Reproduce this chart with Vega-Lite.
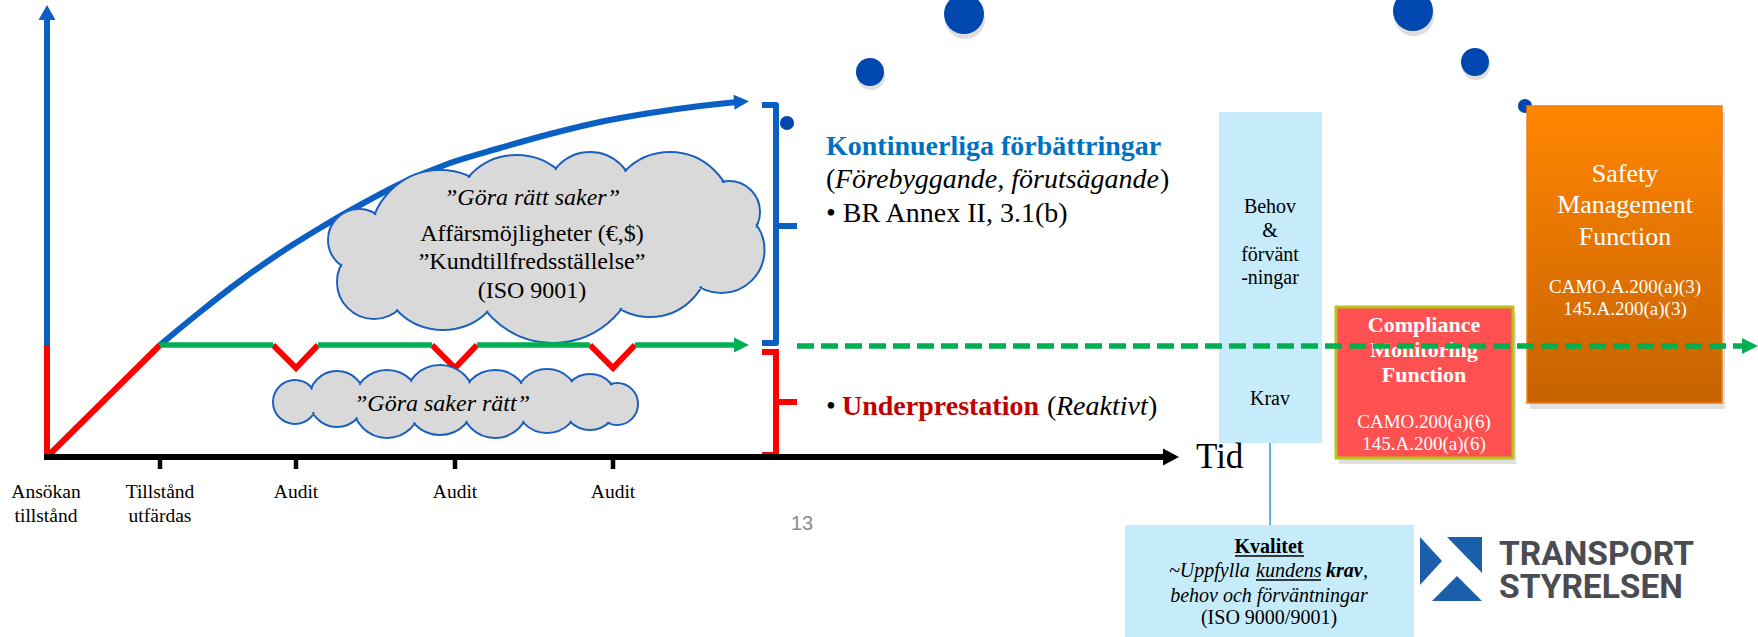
{
  "$schema": "https://vega.github.io/schema/vega-lite/v6.json",
  "width": 1758,
  "height": 637,
  "autosize": {"type": "none"},
  "padding": 0,
  "background": "white",
  "config": {"view": {"stroke": null}},
  "datasets": {
    "boxes": [
      {"k": "behov", "x": 1219, "x2": 1322, "y": 112, "y2": 443},
      {"k": "kvalitet", "x": 1125, "x2": 1414, "y": 525, "y2": 640},
      {"k": "cmf", "x": 1336, "x2": 1513, "y": 307, "y2": 458},
      {"k": "smf", "x": 1527, "x2": 1722, "y": 106, "y2": 403}
    ],
    "paths": [
      {"s": "forbattring", "seg": "axel", "o": 1, "x": 47, "y": 345},
      {"s": "forbattring", "seg": "axel", "o": 2, "x": 47, "y": 16},
      {"s": "forbattring", "seg": "klammer", "o": 1, "x": 762, "y": 105},
      {"s": "forbattring", "seg": "klammer", "o": 2, "x": 776, "y": 105},
      {"s": "forbattring", "seg": "klammer", "o": 3, "x": 776, "y": 343},
      {"s": "forbattring", "seg": "klammer", "o": 4, "x": 762, "y": 343},
      {"s": "forbattring", "seg": "mitt", "o": 1, "x": 776, "y": 226},
      {"s": "forbattring", "seg": "mitt", "o": 2, "x": 797, "y": 226},
      {"s": "under", "seg": "axel", "o": 1, "x": 47, "y": 457},
      {"s": "under", "seg": "axel", "o": 2, "x": 47, "y": 345},
      {"s": "under", "seg": "diag", "o": 1, "x": 47, "y": 457},
      {"s": "under", "seg": "diag", "o": 2, "x": 160, "y": 345},
      {"s": "under", "seg": "v1", "o": 1, "x": 273, "y": 345},
      {"s": "under", "seg": "v1", "o": 2, "x": 296, "y": 368},
      {"s": "under", "seg": "v1", "o": 3, "x": 318, "y": 345},
      {"s": "under", "seg": "v2", "o": 1, "x": 432, "y": 345},
      {"s": "under", "seg": "v2", "o": 2, "x": 455, "y": 368},
      {"s": "under", "seg": "v2", "o": 3, "x": 477, "y": 345},
      {"s": "under", "seg": "v3", "o": 1, "x": 590, "y": 345},
      {"s": "under", "seg": "v3", "o": 2, "x": 613, "y": 368},
      {"s": "under", "seg": "v3", "o": 3, "x": 635, "y": 345},
      {"s": "under", "seg": "klammer", "o": 1, "x": 762, "y": 352},
      {"s": "under", "seg": "klammer", "o": 2, "x": 776, "y": 352},
      {"s": "under", "seg": "klammer", "o": 3, "x": 776, "y": 455},
      {"s": "under", "seg": "klammer", "o": 4, "x": 762, "y": 455},
      {"s": "under", "seg": "mitt", "o": 1, "x": 776, "y": 402},
      {"s": "under", "seg": "mitt", "o": 2, "x": 797, "y": 402},
      {"s": "niva", "seg": "g1", "o": 1, "x": 160, "y": 345},
      {"s": "niva", "seg": "g1", "o": 2, "x": 273, "y": 345},
      {"s": "niva", "seg": "g2", "o": 1, "x": 318, "y": 345},
      {"s": "niva", "seg": "g2", "o": 2, "x": 432, "y": 345},
      {"s": "niva", "seg": "g3", "o": 1, "x": 477, "y": 345},
      {"s": "niva", "seg": "g3", "o": 2, "x": 590, "y": 345},
      {"s": "niva", "seg": "g4", "o": 1, "x": 635, "y": 345},
      {"s": "niva", "seg": "g4", "o": 2, "x": 737, "y": 345},
      {"s": "fortsatt", "seg": "d", "o": 1, "x": 797, "y": 346},
      {"s": "fortsatt", "seg": "d", "o": 2, "x": 1744, "y": 346},
      {"s": "tid", "seg": "axel", "o": 1, "x": 44, "y": 457},
      {"s": "tid", "seg": "axel", "o": 2, "x": 1166, "y": 457},
      {"s": "tick", "seg": "t1", "o": 1, "x": 160, "y": 457},
      {"s": "tick", "seg": "t1", "o": 2, "x": 160, "y": 469},
      {"s": "tick", "seg": "t2", "o": 1, "x": 296, "y": 457},
      {"s": "tick", "seg": "t2", "o": 2, "x": 296, "y": 469},
      {"s": "tick", "seg": "t3", "o": 1, "x": 455, "y": 457},
      {"s": "tick", "seg": "t3", "o": 2, "x": 455, "y": 469},
      {"s": "tick", "seg": "t4", "o": 1, "x": 613, "y": 457},
      {"s": "tick", "seg": "t4", "o": 2, "x": 613, "y": 469},
      {"s": "understr", "seg": "u1", "o": 1, "x": 1235, "y": 556},
      {"s": "understr", "seg": "u1", "o": 2, "x": 1304, "y": 556},
      {"s": "understr", "seg": "u2", "o": 1, "x": 1256, "y": 580},
      {"s": "understr", "seg": "u2", "o": 2, "x": 1321, "y": 580},
      {"s": "koppling", "seg": "k", "o": 1, "x": 1270, "y": 443},
      {"s": "koppling", "seg": "k", "o": 2, "x": 1270, "y": 525}
    ],
    "kurva": [
      {"x": 160, "y": 345}, {"x": 200, "y": 312}, {"x": 240, "y": 281},
      {"x": 280, "y": 253}, {"x": 320, "y": 228}, {"x": 360, "y": 205},
      {"x": 400, "y": 184}, {"x": 450, "y": 163}, {"x": 500, "y": 148},
      {"x": 550, "y": 134}, {"x": 600, "y": 122}, {"x": 650, "y": 113},
      {"x": 700, "y": 106}, {"x": 737, "y": 102}
    ],
    "pilar": [
      {"s": "yaxel", "x": 47, "y": 13},
      {"s": "kurva", "x": 741, "y": 101.7},
      {"s": "niva", "x": 741, "y": 345},
      {"s": "tid", "x": 1171, "y": 457},
      {"s": "fortsatt", "x": 1750, "y": 346}
    ],
    "prickar": [
      {"k": "stor", "x": 964, "y": 14},
      {"k": "stor", "x": 1413, "y": 11},
      {"k": "mellan", "x": 870, "y": 72},
      {"k": "mellan", "x": 1475, "y": 62},
      {"k": "liten", "x": 787, "y": 123},
      {"k": "liten", "x": 1525, "y": 106}
    ],
    "moln": [
      {"k": "moln1", "x": 548, "y": 248},
      {"k": "moln2", "x": 455, "y": 402}
    ],
    "logo": [{"x": 1451, "y": 569}],
    "texter": [
      {"k": "tick", "t": "Ansökan", "x": 46, "y": 498},
      {"k": "tick", "t": "tillstånd", "x": 46, "y": 522},
      {"k": "tick", "t": "Tillstånd", "x": 160, "y": 498},
      {"k": "tick", "t": "utfärdas", "x": 160, "y": 522},
      {"k": "tick", "t": "Audit", "x": 296, "y": 498},
      {"k": "tick", "t": "Audit", "x": 455, "y": 498},
      {"k": "tick", "t": "Audit", "x": 613, "y": 498},
      {"k": "moln", "t": "Affärsmöjligheter (€,$)", "x": 532, "y": 241},
      {"k": "moln", "t": "”Kundtillfredsställelse”", "x": 532, "y": 269},
      {"k": "moln", "t": "(ISO 9001)", "x": 532, "y": 298},
      {"k": "moln_kursiv", "t": "”Göra rätt saker”", "x": 532, "y": 205},
      {"k": "moln_kursiv", "t": "”Göra saker rätt”", "x": 442, "y": 411},
      {"k": "rubrik", "t": "Kontinuerliga förbättringar", "x": 826, "y": 155},
      {"k": "brod", "t": "(", "x": 826, "y": 188},
      {"k": "brod", "t": ")", "x": 1160, "y": 188},
      {"k": "brod", "t": "• BR Annex II, 3.1(b)", "x": 826, "y": 222},
      {"k": "brod", "t": "•", "x": 826, "y": 415},
      {"k": "brod", "t": "(", "x": 1047, "y": 415},
      {"k": "brod", "t": ")", "x": 1148, "y": 415},
      {"k": "brod_kursiv", "t": "Förebyggande, förutsägande", "x": 835, "y": 188},
      {"k": "brod_kursiv", "t": "Reaktivt", "x": 1056, "y": 415},
      {"k": "brod_rod", "t": "Underprestation", "x": 842, "y": 415},
      {"k": "tid", "t": "Tid", "x": 1196, "y": 468},
      {"k": "behov", "t": "Behov", "x": 1270, "y": 213},
      {"k": "behov", "t": "&", "x": 1270, "y": 237},
      {"k": "behov", "t": "förvänt", "x": 1270, "y": 261},
      {"k": "behov", "t": "-ningar", "x": 1270, "y": 284},
      {"k": "behov", "t": "Krav", "x": 1270, "y": 405},
      {"k": "cmf", "t": "Compliance", "x": 1424, "y": 332},
      {"k": "cmf", "t": "Monitoring", "x": 1424, "y": 357},
      {"k": "cmf", "t": "Function", "x": 1424, "y": 382},
      {"k": "kod", "t": "CAMO.200(a)(6)", "x": 1424, "y": 428},
      {"k": "kod", "t": "145.A.200(a)(6)", "x": 1424, "y": 450},
      {"k": "kod", "t": "CAMO.A.200(a)(3)", "x": 1625, "y": 293},
      {"k": "kod", "t": "145.A.200(a)(3)", "x": 1625, "y": 315},
      {"k": "smf", "t": "Safety", "x": 1625, "y": 182},
      {"k": "smf", "t": "Management", "x": 1625, "y": 213},
      {"k": "smf", "t": "Function", "x": 1625, "y": 245},
      {"k": "kval_rubrik", "t": "Kvalitet", "x": 1269, "y": 553},
      {"k": "kval_kursiv", "t": "~Uppfylla", "x": 1169, "y": 577},
      {"k": "kval_kursiv", "t": "kundens", "x": 1256, "y": 577},
      {"k": "kval_kursiv", "t": ",", "x": 1363, "y": 577},
      {"k": "kval_fet", "t": "krav", "x": 1326, "y": 577},
      {"k": "kval_kursiv_c", "t": "behov och förväntningar", "x": 1269, "y": 602},
      {"k": "kval", "t": "(ISO 9000/9001)", "x": 1269, "y": 624},
      {"k": "sida", "t": "13", "x": 802, "y": 530},
      {"k": "logo", "t": "TRANSPORT", "x": 1499, "y": 565},
      {"k": "logo", "t": "STYRELSEN", "x": 1499, "y": 598}
    ]
  },
  "encoding": {
    "x": {"field": "x", "type": "quantitative", "scale": {"domain": [0, 1758], "nice": false, "zero": false}, "axis": null},
    "y": {"field": "y", "type": "quantitative", "scale": {"domain": [0, 637], "nice": false, "zero": false, "reverse": true}, "axis": null}
  },
  "layer": [
    {
      "data": {"name": "boxes"},
      "transform": [{"filter": "datum.k === 'behov' || datum.k === 'kvalitet'"}],
      "mark": {"type": "rect", "fill": "#c6ecfc"},
      "encoding": {"x2": {"field": "x2"}, "y2": {"field": "y2"}}
    },
    {
      "data": {"name": "paths"},
      "transform": [{"filter": "datum.s === 'koppling'"}],
      "mark": {"type": "line", "color": "#1f9fe0", "strokeWidth": 1.5},
      "encoding": {"detail": {"field": "seg"}, "order": {"field": "o"}}
    },
    {
      "data": {"name": "prickar"},
      "transform": [{"filter": "datum.k === 'stor'"}],
      "mark": {"type": "point", "shape": "circle", "size": 1600, "filled": true, "fill": "#7a7a7a", "opacity": 0.25, "strokeWidth": 0, "yOffset": 5, "xOffset": 1}
    },
    {
      "data": {"name": "prickar"},
      "transform": [{"filter": "datum.k === 'mellan'"}],
      "mark": {"type": "point", "shape": "circle", "size": 784, "filled": true, "fill": "#7a7a7a", "opacity": 0.25, "strokeWidth": 0, "yOffset": 4, "xOffset": 1}
    },
    {
      "data": {"name": "prickar"},
      "transform": [{"filter": "datum.k === 'stor'"}],
      "mark": {"type": "point", "shape": "circle", "size": 1600, "filled": true, "fill": "#0048b0", "opacity": 1, "strokeWidth": 0}
    },
    {
      "data": {"name": "prickar"},
      "transform": [{"filter": "datum.k === 'mellan'"}],
      "mark": {"type": "point", "shape": "circle", "size": 784, "filled": true, "fill": "#0048b0", "opacity": 1, "strokeWidth": 0}
    },
    {
      "data": {"name": "prickar"},
      "transform": [{"filter": "datum.k === 'liten'"}],
      "mark": {"type": "point", "shape": "circle", "size": 200, "filled": true, "fill": "#0048b0", "opacity": 1, "strokeWidth": 0}
    },
    {
      "data": {"name": "boxes"},
      "transform": [{"filter": "datum.k === 'cmf' || datum.k === 'smf'"}],
      "mark": {"type": "rect", "fill": "#555555", "opacity": 0.18, "xOffset": 3, "x2Offset": 3, "yOffset": 6, "y2Offset": 6},
      "encoding": {"x2": {"field": "x2"}, "y2": {"field": "y2"}}
    },
    {
      "data": {"name": "boxes"},
      "transform": [{"filter": "datum.k === 'cmf'"}],
      "mark": {"type": "rect", "fill": "#ff5151", "stroke": "#b8c21c", "strokeWidth": 3},
      "encoding": {"x2": {"field": "x2"}, "y2": {"field": "y2"}}
    },
    {
      "data": {"name": "boxes"},
      "transform": [{"filter": "datum.k === 'smf'"}],
      "mark": {
        "type": "rect",
        "fill": {"gradient": "linear", "x1": 0, "y1": 0, "x2": 0, "y2": 1, "stops": [{"offset": 0, "color": "#ff8600"}, {"offset": 1, "color": "#c76200"}]},
        "stroke": "#ef7d1a",
        "strokeWidth": 1.5
      },
      "encoding": {"x2": {"field": "x2"}, "y2": {"field": "y2"}}
    },
    {
      "data": {"name": "kurva"},
      "mark": {"type": "line", "color": "#0a5fc2", "strokeWidth": 6, "interpolate": "monotone"},
      "encoding": {"order": {"field": "x"}}
    },
    {
      "data": {"name": "paths"},
      "transform": [{"filter": "datum.s === 'forbattring'"}],
      "mark": {"type": "line", "color": "#0a5fc2", "strokeWidth": 6, "strokeJoin": "round"},
      "encoding": {"detail": {"field": "seg"}, "order": {"field": "o"}}
    },
    {
      "data": {"name": "paths"},
      "transform": [{"filter": "datum.s === 'under'"}],
      "mark": {"type": "line", "color": "#ff0000", "strokeWidth": 6, "strokeJoin": "miter"},
      "encoding": {"detail": {"field": "seg"}, "order": {"field": "o"}}
    },
    {
      "data": {"name": "paths"},
      "transform": [{"filter": "datum.s === 'tid'"}],
      "mark": {"type": "line", "color": "#000000", "strokeWidth": 6},
      "encoding": {"detail": {"field": "seg"}, "order": {"field": "o"}}
    },
    {
      "data": {"name": "paths"},
      "transform": [{"filter": "datum.s === 'tick'"}],
      "mark": {"type": "line", "color": "#000000", "strokeWidth": 4.5},
      "encoding": {"detail": {"field": "seg"}, "order": {"field": "o"}}
    },
    {
      "data": {"name": "moln"},
      "transform": [{"filter": "datum.k === 'moln1'"}],
      "mark": {
        "type": "point",
        "shape": "M -38 -8 A 70 70 0 1 1 -178 -8 A 70 70 0 1 1 -38 -8 Z M 32.7 -29 A 64 64 0 1 1 -95.3 -29 A 64 64 0 1 1 32.7 -29 Z M 86 -52 A 44 44 0 1 1 -2 -52 A 44 44 0 1 1 86 -52 Z M 185 -33 A 63 63 0 1 1 59 -33 A 63 63 0 1 1 185 -33 Z M 212 -36 A 31 31 0 1 1 150 -36 A 31 31 0 1 1 212 -36 Z M 216.5 2 A 43 43 0 1 1 130.5 2 A 43 43 0 1 1 216.5 2 Z M 161 10 A 59 59 0 1 1 43 10 A 59 59 0 1 1 161 10 Z M 91 9 A 86 86 0 1 1 -81 9 A 86 86 0 1 1 91 9 Z M -41 18 A 64 64 0 1 1 -169 18 A 64 64 0 1 1 -41 18 Z M -137 34 A 37 37 0 1 1 -211 34 A 37 37 0 1 1 -137 34 Z M -158 -8 A 31 31 0 1 1 -220 -8 A 31 31 0 1 1 -158 -8 Z",
        "size": 4,
        "filled": true,
        "fill": "#d9d9d9",
        "stroke": "#1b5fbf",
        "strokeWidth": 2,
        "opacity": 1
      }
    },
    {
      "data": {"name": "moln"},
      "transform": [{"filter": "datum.k === 'moln1'"}],
      "mark": {
        "type": "point",
        "shape": "M -39.5 -8 A 68.5 68.5 0 1 1 -176.5 -8 A 68.5 68.5 0 1 1 -39.5 -8 Z M 31.2 -29 A 62.5 62.5 0 1 1 -93.8 -29 A 62.5 62.5 0 1 1 31.2 -29 Z M 84.5 -52 A 42.5 42.5 0 1 1 -0.5 -52 A 42.5 42.5 0 1 1 84.5 -52 Z M 183.5 -33 A 61.5 61.5 0 1 1 60.5 -33 A 61.5 61.5 0 1 1 183.5 -33 Z M 210.5 -36 A 29.5 29.5 0 1 1 151.5 -36 A 29.5 29.5 0 1 1 210.5 -36 Z M 215 2 A 41.5 41.5 0 1 1 132 2 A 41.5 41.5 0 1 1 215 2 Z M 159.5 10 A 57.5 57.5 0 1 1 44.5 10 A 57.5 57.5 0 1 1 159.5 10 Z M 89.5 9 A 84.5 84.5 0 1 1 -79.5 9 A 84.5 84.5 0 1 1 89.5 9 Z M -42.5 18 A 62.5 62.5 0 1 1 -167.5 18 A 62.5 62.5 0 1 1 -42.5 18 Z M -138.5 34 A 35.5 35.5 0 1 1 -209.5 34 A 35.5 35.5 0 1 1 -138.5 34 Z M -159.5 -8 A 29.5 29.5 0 1 1 -218.5 -8 A 29.5 29.5 0 1 1 -159.5 -8 Z",
        "size": 4,
        "filled": true,
        "fill": "#d9d9d9",
        "strokeWidth": 0,
        "opacity": 1
      }
    },
    {
      "data": {"name": "moln"},
      "transform": [{"filter": "datum.k === 'moln2'"}],
      "mark": {
        "type": "point",
        "shape": "M -138 0 A 22 22 0 1 1 -182 0 A 22 22 0 1 1 -138 0 Z M -90 -3 A 28 28 0 1 1 -146 -3 A 28 28 0 1 1 -90 -3 Z M -34 2 A 34 34 0 1 1 -102 2 A 34 34 0 1 1 -34 2 Z M 20 -2 A 35 35 0 1 1 -50 -2 A 35 35 0 1 1 20 -2 Z M 74 2 A 34 34 0 1 1 6 2 A 34 34 0 1 1 74 2 Z M 124 -1 A 32 32 0 1 1 60 -1 A 32 32 0 1 1 124 -1 Z M 163 0 A 28 28 0 1 1 107 0 A 28 28 0 1 1 163 0 Z M 183 2 A 21 21 0 1 1 141 2 A 21 21 0 1 1 183 2 Z",
        "size": 4,
        "filled": true,
        "fill": "#d9d9d9",
        "stroke": "#1b5fbf",
        "strokeWidth": 2,
        "opacity": 1
      }
    },
    {
      "data": {"name": "moln"},
      "transform": [{"filter": "datum.k === 'moln2'"}],
      "mark": {
        "type": "point",
        "shape": "M -139.5 0 A 20.5 20.5 0 1 1 -180.5 0 A 20.5 20.5 0 1 1 -139.5 0 Z M -91.5 -3 A 26.5 26.5 0 1 1 -144.5 -3 A 26.5 26.5 0 1 1 -91.5 -3 Z M -35.5 2 A 32.5 32.5 0 1 1 -100.5 2 A 32.5 32.5 0 1 1 -35.5 2 Z M 18.5 -2 A 33.5 33.5 0 1 1 -48.5 -2 A 33.5 33.5 0 1 1 18.5 -2 Z M 72.5 2 A 32.5 32.5 0 1 1 7.5 2 A 32.5 32.5 0 1 1 72.5 2 Z M 122.5 -1 A 30.5 30.5 0 1 1 61.5 -1 A 30.5 30.5 0 1 1 122.5 -1 Z M 161.5 0 A 26.5 26.5 0 1 1 108.5 0 A 26.5 26.5 0 1 1 161.5 0 Z M 181.5 2 A 19.5 19.5 0 1 1 142.5 2 A 19.5 19.5 0 1 1 181.5 2 Z",
        "size": 4,
        "filled": true,
        "fill": "#d9d9d9",
        "strokeWidth": 0,
        "opacity": 1
      }
    },
    {
      "data": {"name": "paths"},
      "transform": [{"filter": "datum.s === 'niva'"}],
      "mark": {"type": "line", "color": "#00b050", "strokeWidth": 5.5},
      "encoding": {"detail": {"field": "seg"}, "order": {"field": "o"}}
    },
    {
      "data": {"name": "pilar"},
      "transform": [{"filter": "datum.s === 'yaxel'"}],
      "mark": {"type": "point", "shape": "M 0 -8 L 8.5 7 L -8.5 7 Z", "size": 4, "filled": true, "fill": "#0a5fc2", "strokeWidth": 0, "opacity": 1}
    },
    {
      "data": {"name": "pilar"},
      "transform": [{"filter": "datum.s === 'kurva'"}],
      "mark": {"type": "point", "shape": "M 8 0 L -7 -7.5 L -7 7.5 Z", "size": 4, "angle": -4, "filled": true, "fill": "#0a5fc2", "strokeWidth": 0, "opacity": 1}
    },
    {
      "data": {"name": "pilar"},
      "transform": [{"filter": "datum.s === 'niva'"}],
      "mark": {"type": "point", "shape": "M 8 0 L -7 -7.5 L -7 7.5 Z", "size": 4, "filled": true, "fill": "#00b050", "strokeWidth": 0, "opacity": 1}
    },
    {
      "data": {"name": "pilar"},
      "transform": [{"filter": "datum.s === 'tid'"}],
      "mark": {"type": "point", "shape": "M 8 0 L -8 -8.5 L -8 8.5 Z", "size": 4, "filled": true, "fill": "#000000", "strokeWidth": 0, "opacity": 1}
    },
    {
      "data": {"name": "texter"},
      "transform": [{"filter": "datum.k === 'tick'"}],
      "mark": {"type": "text", "font": "Liberation Serif", "fontSize": 19.5, "align": "center", "baseline": "alphabetic", "color": "#000000"},
      "encoding": {"text": {"field": "t"}}
    },
    {
      "data": {"name": "texter"},
      "transform": [{"filter": "datum.k === 'moln'"}],
      "mark": {"type": "text", "font": "Liberation Serif", "fontSize": 24, "align": "center", "baseline": "alphabetic", "color": "#000000"},
      "encoding": {"text": {"field": "t"}}
    },
    {
      "data": {"name": "texter"},
      "transform": [{"filter": "datum.k === 'moln_kursiv'"}],
      "mark": {"type": "text", "font": "Liberation Serif", "fontSize": 24, "fontStyle": "italic", "align": "center", "baseline": "alphabetic", "color": "#000000"},
      "encoding": {"text": {"field": "t"}}
    },
    {
      "data": {"name": "texter"},
      "transform": [{"filter": "datum.k === 'rubrik'"}],
      "mark": {"type": "text", "font": "Liberation Serif", "fontSize": 28, "fontWeight": "bold", "align": "left", "baseline": "alphabetic", "color": "#0070c0"},
      "encoding": {"text": {"field": "t"}}
    },
    {
      "data": {"name": "texter"},
      "transform": [{"filter": "datum.k === 'brod'"}],
      "mark": {"type": "text", "font": "Liberation Serif", "fontSize": 28, "align": "left", "baseline": "alphabetic", "color": "#000000"},
      "encoding": {"text": {"field": "t"}}
    },
    {
      "data": {"name": "texter"},
      "transform": [{"filter": "datum.k === 'brod_kursiv'"}],
      "mark": {"type": "text", "font": "Liberation Serif", "fontSize": 28, "fontStyle": "italic", "align": "left", "baseline": "alphabetic", "color": "#000000"},
      "encoding": {"text": {"field": "t"}}
    },
    {
      "data": {"name": "texter"},
      "transform": [{"filter": "datum.k === 'brod_rod'"}],
      "mark": {"type": "text", "font": "Liberation Serif", "fontSize": 28, "fontWeight": "bold", "align": "left", "baseline": "alphabetic", "color": "#c00000"},
      "encoding": {"text": {"field": "t"}}
    },
    {
      "data": {"name": "texter"},
      "transform": [{"filter": "datum.k === 'tid'"}],
      "mark": {"type": "text", "font": "Liberation Serif", "fontSize": 35, "align": "left", "baseline": "alphabetic", "color": "#000000"},
      "encoding": {"text": {"field": "t"}}
    },
    {
      "data": {"name": "texter"},
      "transform": [{"filter": "datum.k === 'behov'"}],
      "mark": {"type": "text", "font": "Liberation Serif", "fontSize": 20, "align": "center", "baseline": "alphabetic", "color": "#000000"},
      "encoding": {"text": {"field": "t"}}
    },
    {
      "data": {"name": "texter"},
      "transform": [{"filter": "datum.k === 'cmf'"}],
      "mark": {"type": "text", "font": "Liberation Serif", "fontSize": 22, "fontWeight": "bold", "align": "center", "baseline": "alphabetic", "color": "#ffffff"},
      "encoding": {"text": {"field": "t"}}
    },
    {
      "data": {"name": "texter"},
      "transform": [{"filter": "datum.k === 'kod'"}],
      "mark": {"type": "text", "font": "Liberation Serif", "fontSize": 19, "align": "center", "baseline": "alphabetic", "color": "#ffffff"},
      "encoding": {"text": {"field": "t"}}
    },
    {
      "data": {"name": "texter"},
      "transform": [{"filter": "datum.k === 'smf'"}],
      "mark": {"type": "text", "font": "Liberation Serif", "fontSize": 26, "align": "center", "baseline": "alphabetic", "color": "#ffffff"},
      "encoding": {"text": {"field": "t"}}
    },
    {
      "data": {"name": "texter"},
      "transform": [{"filter": "datum.k === 'kval_rubrik'"}],
      "mark": {"type": "text", "font": "Liberation Serif", "fontSize": 20, "fontWeight": "bold", "align": "center", "baseline": "alphabetic", "color": "#000000"},
      "encoding": {"text": {"field": "t"}}
    },
    {
      "data": {"name": "texter"},
      "transform": [{"filter": "datum.k === 'kval_kursiv'"}],
      "mark": {"type": "text", "font": "Liberation Serif", "fontSize": 20, "fontStyle": "italic", "align": "left", "baseline": "alphabetic", "color": "#000000"},
      "encoding": {"text": {"field": "t"}}
    },
    {
      "data": {"name": "texter"},
      "transform": [{"filter": "datum.k === 'kval_fet'"}],
      "mark": {"type": "text", "font": "Liberation Serif", "fontSize": 20, "fontStyle": "italic", "fontWeight": "bold", "align": "left", "baseline": "alphabetic", "color": "#000000"},
      "encoding": {"text": {"field": "t"}}
    },
    {
      "data": {"name": "texter"},
      "transform": [{"filter": "datum.k === 'kval_kursiv_c'"}],
      "mark": {"type": "text", "font": "Liberation Serif", "fontSize": 20, "fontStyle": "italic", "align": "center", "baseline": "alphabetic", "color": "#000000"},
      "encoding": {"text": {"field": "t"}}
    },
    {
      "data": {"name": "texter"},
      "transform": [{"filter": "datum.k === 'kval'"}],
      "mark": {"type": "text", "font": "Liberation Serif", "fontSize": 20, "align": "center", "baseline": "alphabetic", "color": "#000000"},
      "encoding": {"text": {"field": "t"}}
    },
    {
      "data": {"name": "texter"},
      "transform": [{"filter": "datum.k === 'sida'"}],
      "mark": {"type": "text", "font": "Liberation Sans", "fontSize": 20, "align": "center", "baseline": "alphabetic", "color": "#8a8a8a"},
      "encoding": {"text": {"field": "t"}}
    },
    {
      "data": {"name": "texter"},
      "transform": [{"filter": "datum.k === 'logo'"}],
      "mark": {"type": "text", "font": "Roboto", "fontSize": 33.5, "fontWeight": "bold", "align": "left", "baseline": "alphabetic", "color": "#4a4c51"},
      "encoding": {"text": {"field": "t"}}
    },
    {
      "data": {"name": "paths"},
      "transform": [{"filter": "datum.s === 'understr'"}],
      "mark": {"type": "line", "color": "#000000", "strokeWidth": 1.3},
      "encoding": {"detail": {"field": "seg"}, "order": {"field": "o"}}
    },
    {
      "data": {"name": "logo"},
      "mark": {"type": "point", "shape": "M -31 -32 L -9 -8 L -31 16 Z M -4 -32 L 31 -32 L 31 4 Z M 6 7 L 31 32 L -19 32 Z", "size": 4, "filled": true, "fill": "#1b5ea9", "strokeWidth": 0, "opacity": 1}
    },
    {
      "data": {"name": "paths"},
      "transform": [{"filter": "datum.s === 'fortsatt'"}],
      "mark": {"type": "line", "color": "#00b050", "strokeWidth": 5.5, "strokeDash": [17, 7]},
      "encoding": {"detail": {"field": "seg"}, "order": {"field": "o"}}
    },
    {
      "data": {"name": "pilar"},
      "transform": [{"filter": "datum.s === 'fortsatt'"}],
      "mark": {"type": "point", "shape": "M 8 0 L -8 -8 L -8 8 Z", "size": 4, "filled": true, "fill": "#00b050", "strokeWidth": 0, "opacity": 1}
    }
  ]
}
